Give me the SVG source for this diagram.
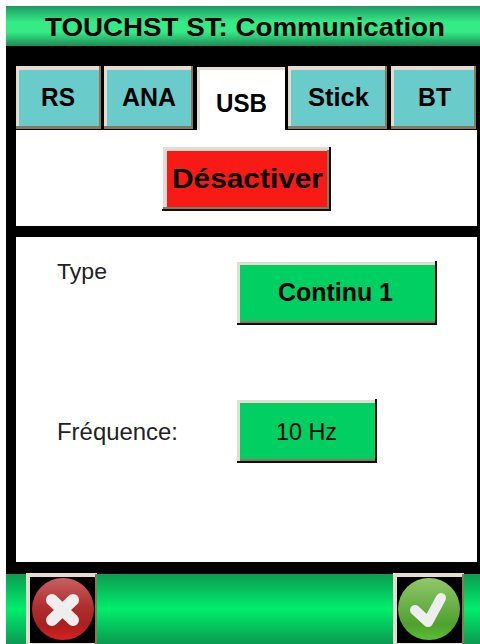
<svg xmlns="http://www.w3.org/2000/svg" width="480" height="644" viewBox="0 0 480 644">
<style>
text{font-family:"Liberation Sans",Arial,sans-serif;fill:#000}
.b{font-weight:bold}
.t{font-size:25px}
.l{fill:#222}
.hl{fill:#e4dcd0}.sh{fill:#8a7658}.dk{fill:#111}
.tab{fill:#6accca}.grn{fill:#00d062}
</style>
<defs>
<linearGradient id="title" x1="0" y1="0" x2="0" y2="1"><stop offset="0" stop-color="#1f9a62"/><stop offset=".4" stop-color="#36ea86"/><stop offset=".65" stop-color="#36ea86"/><stop offset="1" stop-color="#1f8a58"/></linearGradient>
<linearGradient id="bar" x1="0" y1="0" x2="0" y2="1"><stop offset="0" stop-color="#0c9c50"/><stop offset=".5" stop-color="#00ee6c"/><stop offset="1" stop-color="#0a9a50"/></linearGradient>
<linearGradient id="red" x1="0" y1="0" x2="0" y2="1"><stop offset="0" stop-color="#c86060"/><stop offset=".45" stop-color="#b03030"/><stop offset=".75" stop-color="#a82020"/><stop offset="1" stop-color="#d82020"/></linearGradient>
<linearGradient id="gr" x1="0" y1="0" x2="0" y2="1"><stop offset="0" stop-color="#90c868"/><stop offset=".45" stop-color="#68b048"/><stop offset=".75" stop-color="#50a030"/><stop offset="1" stop-color="#58c030"/></linearGradient>
</defs>
<rect width="480" height="644" fill="#fff"/>
<rect x="6" y="6" width="474" height="638" fill="#000"/>
<g id="title-bar"><rect x="6" y="6" width="474" height="40" fill="url(#title)"/><text class="b" x="45" y="36" font-size="25" textLength="400" lengthAdjust="spacingAndGlyphs">TOUCHST ST: Communication</text></g>
<rect id="panel-top" x="16" y="130" width="461" height="96" fill="#fff"/>
<rect id="panel-main" x="16" y="237" width="461" height="325" fill="#fff"/>
<g id="tab-rs"><rect class="sh" x="16" y="66" width="85" height="63"/><rect class="hl" x="16" y="66" width="83" height="60"/><rect class="tab" x="19" y="70" width="80" height="56"/><text class="b t" x="41" y="106" textLength="34" lengthAdjust="spacingAndGlyphs">RS</text></g>
<g id="tab-ana"><rect class="sh" x="104" y="66" width="89" height="63"/><rect class="hl" x="104" y="66" width="87" height="60"/><rect class="tab" x="107" y="70" width="84" height="56"/><text class="b t" x="122" y="106" textLength="54" lengthAdjust="spacingAndGlyphs">ANA</text></g>
<g id="tab-usb"><rect x="197" y="67" width="88" height="65" fill="#fff"/><rect class="hl" x="197" y="67" width="3" height="63"/><rect class="hl" x="197" y="67" width="88" height="3"/><text class="b t" x="216" y="112" textLength="51" lengthAdjust="spacingAndGlyphs">USB</text></g>
<g id="tab-stick"><rect class="sh" x="288" y="66" width="99" height="63"/><rect class="hl" x="288" y="66" width="97" height="60"/><rect class="tab" x="291" y="70" width="94" height="56"/><text class="b t" x="308" y="106" textLength="61" lengthAdjust="spacingAndGlyphs">Stick</text></g>
<g id="tab-bt"><rect class="sh" x="391" y="66" width="85" height="63"/><rect class="hl" x="391" y="66" width="83" height="60"/><rect class="tab" x="394" y="70" width="80" height="56"/><text class="b t" x="418" y="106" textLength="33" lengthAdjust="spacingAndGlyphs">BT</text></g>
<g id="btn-desactiver"><rect class="dk" x="162" y="209" width="169" height="2"/><rect class="dk" x="329" y="147" width="2" height="64"/><rect class="hl" x="163" y="147" width="166" height="62"/><rect class="sh" x="163" y="207" width="166" height="2"/><rect class="sh" x="327" y="150" width="2" height="59"/><rect x="167" y="151" width="160" height="56" fill="#f91a16"/><text class="b" x="172" y="188" font-size="27" textLength="151" lengthAdjust="spacingAndGlyphs">Désactiver</text></g>
<g id="type"><text class="l" x="57" y="279" font-size="22" textLength="50" lengthAdjust="spacingAndGlyphs">Type</text></g>
<g id="btn-continu"><rect class="dk" x="237" y="323" width="200" height="2"/><rect class="dk" x="435" y="261" width="2" height="64"/><rect class="hl" x="237" y="262" width="198" height="61"/><rect class="sh" x="240" y="321" width="195" height="2"/><rect class="grn" x="240" y="265" width="195" height="56"/><text class="b" x="278" y="301" font-size="25" textLength="115" lengthAdjust="spacingAndGlyphs">Continu 1</text></g>
<g id="frequence"><text class="l" x="57" y="440" font-size="23" textLength="121" lengthAdjust="spacingAndGlyphs">Fréquence:</text></g>
<g id="btn-10hz"><rect class="dk" x="237" y="461" width="140" height="2"/><rect class="dk" x="375" y="399" width="2" height="64"/><rect class="hl" x="237" y="400" width="138" height="61"/><rect class="sh" x="240" y="459" width="135" height="2"/><rect class="grn" x="240" y="403" width="135" height="56"/><text x="276" y="440" font-size="24" textLength="61" lengthAdjust="spacingAndGlyphs">10 Hz</text></g>
<g id="bottom-bar"><rect x="6" y="574" width="474" height="70" fill="url(#bar)"/></g>
<g id="btn-cancel"><rect class="hl" x="26" y="573" width="71" height="71"/><rect class="sh" x="95" y="574" width="2" height="70"/><rect x="30" y="577" width="65" height="66" fill="#000"/><circle cx="63" cy="609" r="31" fill="url(#red)"/><path d="M52 600L73 620M73 600L52 620" stroke="#eee" stroke-width="12" stroke-linecap="round"/></g>
<g id="btn-ok"><rect class="hl" x="393" y="573" width="71" height="71"/><rect class="sh" x="462" y="574" width="2" height="70"/><rect x="397" y="577" width="65" height="66" fill="#000"/><circle cx="429" cy="609" r="31" fill="url(#gr)"/><path d="M415 610L428 622L441 598" fill="none" stroke="#eee" stroke-width="10" stroke-linecap="round" stroke-linejoin="round"/></g>
</svg>
